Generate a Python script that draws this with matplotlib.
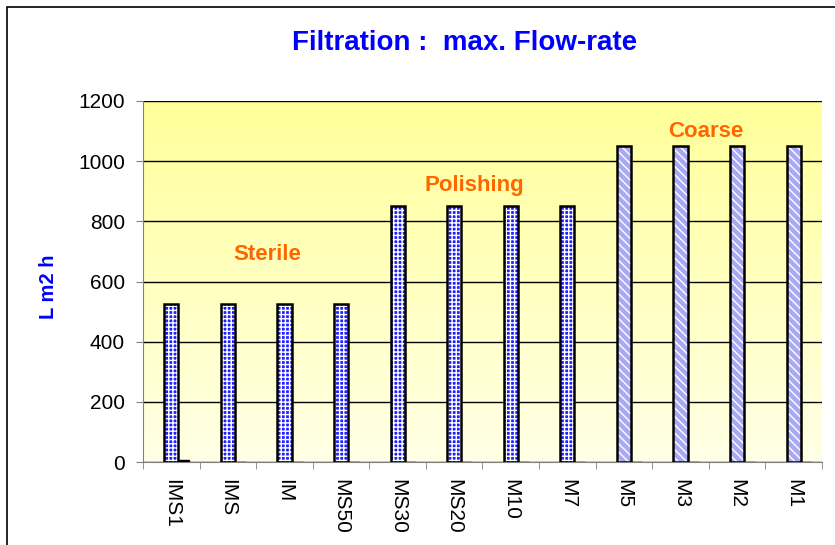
import numpy as np
import matplotlib.pyplot as plt
from matplotlib.patches import Rectangle

plt.rcParams['font.family'] = ['Liberation Sans', 'DejaVu Sans']

filters = ['IMS1', 'IMS', 'IM', 'MS50', 'MS30', 'MS20', 'M10', 'M7', 'M5', 'M3', 'M2', 'M1']
flow = [525, 525, 525, 525, 850, 850, 850, 850, 1050, 1050, 1050, 1050]
second = [5, 0, 0, 0, 0, 0, 0, 0, 0, 0, 0, 0]
groups = ['Sterile', 'Polishing', 'Coarse']
group_pos = [(1.7, 690), (5.35, 918), (9.45, 1098)]

fig = plt.figure(figsize=(8.35, 5.45), dpi=100)
ax = fig.add_axes([143/835, 1-462/545, 679/835, 361/545])

# outer frame
fig.patches.append(Rectangle((7/835, -0.1), 1.2, 1.1-7/545, transform=fig.transFigure,
                             fill=False, edgecolor='black', linewidth=1.2))

# gradient background
grad = np.linspace(0, 1, 256).reshape(-1, 1)
cmap = plt.matplotlib.colors.LinearSegmentedColormap.from_list('bg', ['#FFFFE6', '#FFFF99'])
ax.imshow(grad, extent=[0, 1, 0, 1], transform=ax.transAxes, origin='lower',
          cmap=cmap, aspect='auto', zorder=0)

x = np.arange(len(filters))
w = 0.25
n_fine = 8
face = ['#2020FF'] * n_fine + ['#A8A8F4'] * (len(filters) - n_fine)
hatch = ['++++'] * n_fine + ['\\\\\\\\'] * (len(filters) - n_fine)
for i in range(len(filters)):
    ax.bar(x[i], flow[i], w, color=face[i], edgecolor='white', hatch=hatch[i],
           linewidth=0, zorder=3)
ax.bar(x, flow, w, fill=False, edgecolor='black', linewidth=1.8, zorder=4)
ax.bar(x + 0.22, second, 0.2, color='black', edgecolor='black', zorder=4)

ax.set_xlim(-0.5, len(filters) - 0.5)
ax.set_ylim(0, 1200)
ax.set_yticks(range(0, 1201, 200))
ax.grid(axis='y', color='black', linewidth=1, zorder=1)
ax.set_axisbelow(True)
ax.set_xticks(x)
ax.set_xticklabels(filters, rotation=270, fontsize=15)
ax.set_xticks(np.arange(-0.5, len(filters)), minor=True)
ax.tick_params(axis='x', which='major', length=0, pad=12)
ax.tick_params(axis='x', which='minor', length=5, color='gray', direction='out')
ax.tick_params(axis='y', labelsize=15, length=5, pad=8, color='gray', direction='out')
for s in ['top', 'right']:
    ax.spines[s].set_visible(False)
ax.spines['left'].set_color('gray')
ax.spines['bottom'].set_color('gray')

fig.text(48/835, 1-287/545, 'L m2 h', color='#0000FF', fontsize=14.5, fontweight='bold',
         rotation=90, ha='center', va='center')

for g, (gx, gy) in zip(groups, group_pos):
    ax.text(gx, gy, g, color='#FF6600', fontsize=16, fontweight='bold', ha='center', va='center')

fig.text(465/835, 1-43/545, 'Filtration :  max. Flow-rate', color='#0000FF', fontsize=20,
         fontweight='bold', ha='center', va='center')

fig.savefig('out.png', dpi=100)
